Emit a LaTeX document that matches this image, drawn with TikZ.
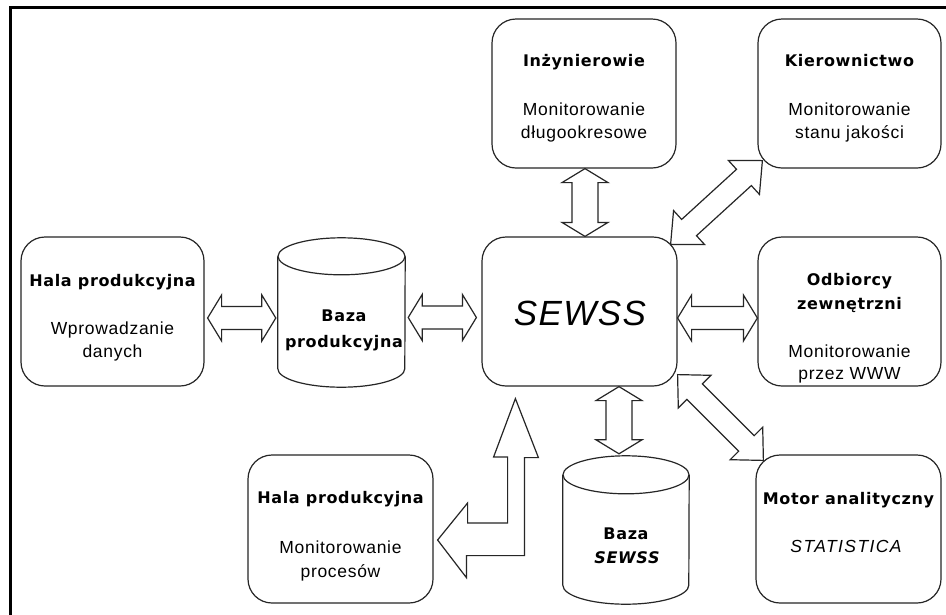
\documentclass[tikz,border=0pt]{standalone}
\usepackage{fontspec}
\setmainfont{Liberation Sans}
\newfontfamily\regf[LetterSpace=4]{Liberation Sans}
\newfontfamily\regw[LetterSpace=8]{Liberation Sans}
\newfontfamily\djv[LetterSpace=4]{DejaVu Sans}
\usetikzlibrary{calc}
\tikzset{
  ln/.style={draw=black!85, line width=1.2pt},
  box/.style={ln, rounded corners=24pt, inner sep=0pt, minimum height=149pt},
  cylnode/.style={inner sep=0pt, minimum height=149pt},
  ttl/.style={anchor=base, inner sep=0pt, font=\djv\bfseries\fontsize{16pt}{19pt}\selectfont},
  txt/.style={anchor=base, inner sep=0pt, font=\regf\fontsize{17.5pt}{21pt}\selectfont},
  itx/.style={anchor=base, inner sep=0pt, font=\regw\itshape\fontsize{17.5pt}{21pt}\selectfont},
  big/.style={anchor=base, inner sep=0pt, font=\regf\itshape\fontsize{35pt}{40pt}\selectfont},
  blk/.style={ln, line join=miter}
}
\newcommand\cylpath[3]{%
  \draw[ln] ($(#1.north west)+(0,#3)$) -- ($(#1.south west)+(0,-#3)$)
    arc[start angle=180, end angle=360, x radius=#2pt, y radius=#3pt]
    -- ($(#1.north east)+(0,#3)$);
  \draw[ln] ($(#1.north)+(0,#3)$) ellipse[x radius=#2pt, y radius=#3pt];
}
\newcommand\dblarrow[5]{%
  \coordinate (da1) at ($(#1)!#3pt!(#2)$);
  \coordinate (da2) at ($(#2)!#3pt!(#1)$);
  \draw[blk] (#1) -- ($(da1)!#4pt!90:(#2)$) -- ($(da1)!#5pt!90:(#2)$)
    -- ($(da2)!#5pt!-90:(#1)$) -- ($(da2)!#4pt!-90:(#1)$) -- (#2)
    -- ($(da2)!#4pt!90:(#1)$) -- ($(da2)!#5pt!90:(#1)$)
    -- ($(da1)!#5pt!-90:(#2)$) -- ($(da1)!#4pt!-90:(#2)$) -- cycle;
}
\begin{document}
\begin{tikzpicture}[x=1pt, y=-1pt]
\useasboundingbox (0,0) rectangle (946,614);
\fill[white] (0,0) rectangle (946,614);
\draw[line width=3pt] (10,620) -- (10,7.5) -- (952,7.5);

% boxes
\node[box, minimum width=184pt] (inz) at (584,93.5) {};
\node[box, minimum width=183pt] (kier) at (849.5,93.5) {};
\node[box, minimum width=183pt] (hala1) at (112.5,311.5) {};
\node[box, minimum width=195pt] (sewss) at (579.5,311.5) {};
\node[box, minimum width=183pt] (odb) at (849.5,311.5) {};
\node[box, minimum width=185pt, minimum height=148pt] (hala2) at (340.5,529) {};
\node[box, minimum width=185pt, minimum height=148pt] (motor) at (848.5,529) {};

% cylinders
\node[cylnode, minimum width=127pt] (bprod) at (341.5,312.5) {};
\cylpath{bprod}{63.5}{18.5}
\node[cylnode, minimum width=126pt, minimum height=148pt] (bsew) at (626,530) {};
\cylpath{bsew}{63}{19}

% texts
\node[ttl] (inzT) at (584,66) {Inżynierowie};
\node[txt] (inzA) at (584,115) {Monitorowanie};
\node[txt] (inzB) at (584,138) {długookresowe};

\node[ttl] (kierT) at (849.5,66) {Kierownictwo};
\node[txt] (kierA) at (849.5,115) {Monitorowanie};
\node[txt] (kierB) at (849.5,138) {stanu jakości};

\node[ttl] (hala1T) at (112.5,286) {Hala produkcyjna};
\node[txt] (hala1A) at (112.5,334) {Wprowadzanie};
\node[txt] (hala1B) at (112.5,357) {danych};

\node[big] (sewssT) at (580,325) {SEWSS};

\node[ttl] (odbT) at (849.5,285) {Odbiorcy};
\node[ttl] (odbU) at (849.5,309) {zewnętrzni};
\node[txt] (odbA) at (849.5,357) {Monitorowanie};
\node[txt] (odbB) at (849.5,379) {przez WWW};

\node[ttl] (hala2T) at (340.5,503) {Hala produkcyjna};
\node[txt] (hala2A) at (340.5,553) {Monitorowanie};
\node[txt] (hala2B) at (340.5,577) {procesów};

\node[ttl] (motorT) at (848.5,504) {Motor analityczny};
\node[itx] (motorA) at (846,552) {STATISTICA};

\node[ttl] (bprodT) at (344,321) {Baza};
\node[ttl] (bprodU) at (344,347) {produkcyjna};

\node[ttl] (bsewT) at (626,539) {Baza};
\node[ttl, font=\djv\bfseries\itshape\fontsize{16pt}{19pt}\selectfont] (bsewU) at (627,563) {SEWSS};

% arrow tips
\coordinate (a1s) at ($(hala1.east)+(3,6.5)$);
\coordinate (a1e) at ($(bprod.west)+(-2,5.5)$);
\coordinate (a2s) at ($(bprod.east)+(3,5)$);
\coordinate (a2e) at ($(sewss.west)+(-5,6)$);
\coordinate (a3s) at ($(sewss.east)+(0,6.5)$);
\coordinate (a3e) at ($(odb.west)+(0,6.5)$);
\coordinate (a4s) at ($(inz.south)+(1,0)$);
\coordinate (a4e) at ($(sewss.north)+(5.5,0)$);
\coordinate (a5s) at ($(sewss.south)+(39.5,0)$);
\coordinate (a5e) at ($(bsew.north)+(-7,-2)$);
\coordinate (a6s) at ($(sewss.north east)+(-7,8)$);
\coordinate (a6e) at ($(kier.south west)+(5,-8)$);
\coordinate (a7s) at ($(sewss.south east)+(0,-12)$);
\coordinate (a7e) at ($(motor.north west)+(8,6)$);

\dblarrow{a1s}{a1e}{14}{23}{11.5}
\dblarrow{a2s}{a2e}{14}{23}{11.5}
\dblarrow{a3s}{a3e}{14}{23}{11.5}
\dblarrow{a4s}{a4e}{14}{23}{13}
\dblarrow{a5s}{a5e}{14}{23}{13}
\dblarrow{a6s}{a6e}{25}{23}{11}
\dblarrow{a7s}{a7e}{24}{23}{11}

% elbow arrow
\coordinate (eup) at ($(sewss.south west)+(34,12)$);
\coordinate (eleft) at ($(hala2.east)+(4,11)$);
\draw[blk] (eup) -- ++(23,59) -- ++(-14,0) -- ++(0,98) -- ++(-58,0) -- ++(0,22)
  -- (eleft) -- ++(30,-37) -- ++(0,20) -- ++(40,0) -- ++(0,-66) -- ++(-14,0) -- cycle;
\end{tikzpicture}
\end{document}
